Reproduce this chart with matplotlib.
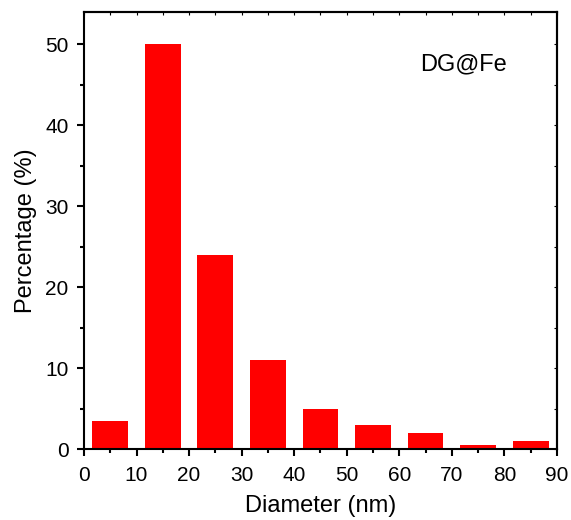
import matplotlib.pyplot as plt
from matplotlib.ticker import MultipleLocator

plt.rcParams['font.family'] = ['Liberation Sans', 'DejaVu Sans']

# bin centres (nm) and percentages
diameter = [5, 15, 25, 35, 45, 55, 65, 75, 85]
percentage = [3.5, 50, 24, 11, 5, 3, 2, 0.5, 1]

fig = plt.figure(figsize=(5.71, 5.2), dpi=100)
ax = fig.add_axes([0.147, 0.136, 0.8285, 0.841])

ax.bar(diameter, percentage, width=6.8, color='#ff0000')

ax.set_xlim(0, 90)
ax.set_ylim(0, 54)
ax.xaxis.set_major_locator(MultipleLocator(10))
ax.xaxis.set_minor_locator(MultipleLocator(5))
ax.yaxis.set_major_locator(MultipleLocator(10))
ax.yaxis.set_minor_locator(MultipleLocator(5))

ax.tick_params(which='major', direction='out', length=5, width=1.5,
               labelsize=15, bottom=True, left=True, top=False, right=False)
ax.tick_params(axis='x', which='major', pad=7)
ax.tick_params(axis='y', which='major', pad=6)
ax.tick_params(which='minor', direction='out', length=3, width=1.5,
               bottom=True, left=True, top=False, right=False)

# small inward ticks on the top and right frame
sec_x = ax.secondary_xaxis('top')
sec_x.xaxis.set_major_locator(MultipleLocator(5))
sec_x.tick_params(direction='in', length=2, width=0.8, labeltop=False)
sec_x.spines['top'].set_linewidth(1.5)
sec_y = ax.secondary_yaxis('right')
sec_y.yaxis.set_major_locator(MultipleLocator(5))
sec_y.tick_params(direction='in', length=2, width=0.8, labelright=False)
sec_y.spines['right'].set_linewidth(1.5)

for s in ax.spines.values():
    s.set_linewidth(1.5)

ax.set_xlabel('Diameter (nm)', fontsize=17, labelpad=7)
ax.set_ylabel('Percentage (%)', fontsize=17, labelpad=6)
ax.text(64, 47.5, 'DG@Fe', fontsize=17, va='center')

fig.savefig('out.png', dpi=100)
